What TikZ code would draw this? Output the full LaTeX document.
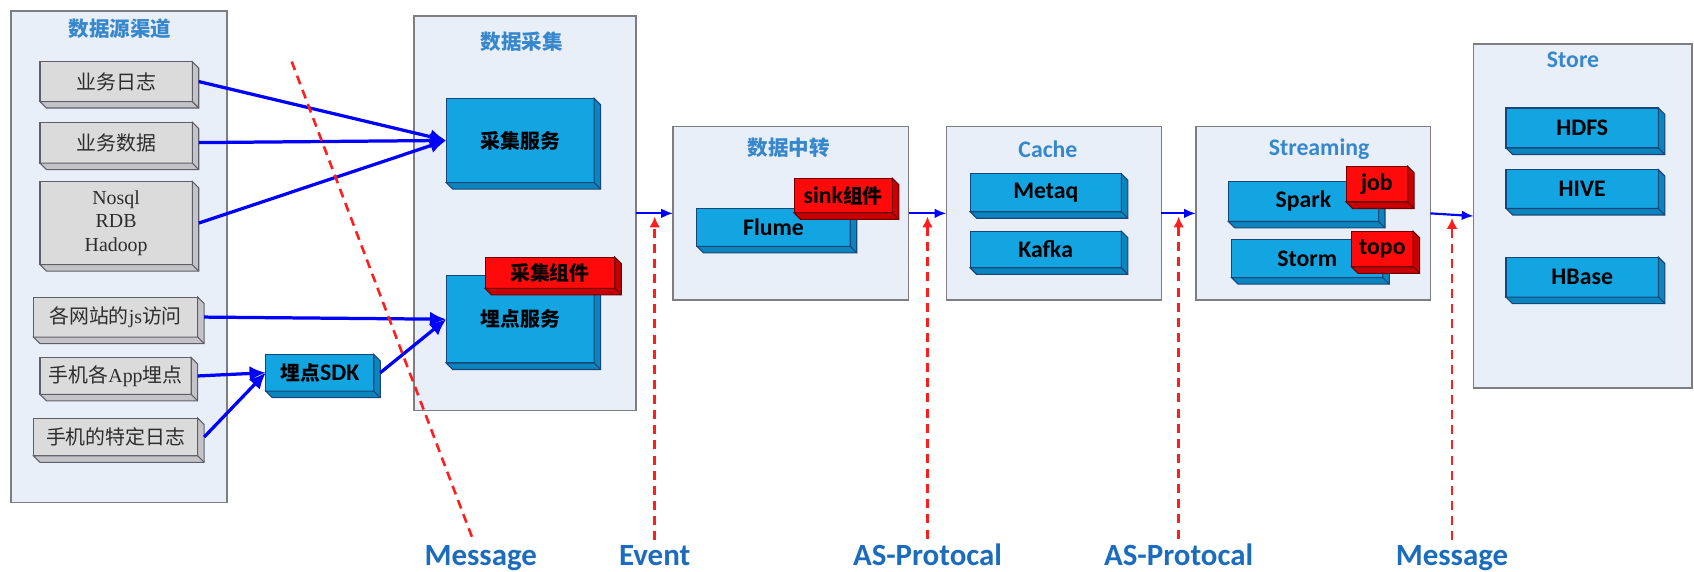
\documentclass[tikz,border=0pt]{standalone}
\usepackage{fontspec}
\setmainfont{Carlito}
\newfontfamily\cjk{Noto Sans CJK SC}
\newfontfamily\gserif{Liberation Serif}
\usetikzlibrary{arrows.meta,calc,fit}
\definecolor{ctnfill}{RGB}{233,239,248}
\definecolor{ctnline}{RGB}{125,125,130}
\definecolor{bfront}{RGB}{18,165,226}
\definecolor{bside}{RGB}{12,132,190}
\definecolor{bline}{RGB}{25,70,120}
\definecolor{rfront}{RGB}{255,10,10}
\definecolor{rside}{RGB}{200,0,0}
\definecolor{rline}{RGB}{110,0,0}
\definecolor{gfront}{RGB}{219,219,219}
\definecolor{gside}{RGB}{196,196,200}
\definecolor{gline}{RGB}{95,95,105}
\definecolor{gtext}{RGB}{45,45,45}
\definecolor{ttlblue}{RGB}{55,135,205}
\definecolor{lblblue}{RGB}{28,108,190}
\definecolor{arrblue}{RGB}{0,0,255}
\definecolor{dashred}{RGB}{255,30,30}
\newcommand\zh[1]{{\cjk\bfseries\fontsize{9.2}{11}\selectfont #1}}
\newcommand\zhr[1]{{\cjk\mdseries\fontsize{9.2}{11}\selectfont #1}}
\newcommand\zht[1]{{\cjk\bfseries\fontsize{9.5}{11}\selectfont #1}}
\newcommand\dd{6}
% style, name, x1, y1, x2, y2, text
\newcommand\tdbox[7]{%
  \node[#1, minimum width={(#5-#3)*0.5pt}, minimum height={(#6-#4)*0.5pt}]
     (#2) at ({(#3+#5)/2},{(#4+#6)/2}) {#7};
  \path[#1side] (#2.north east) -- ([shift={(\dd,\dd)}]#2.north east)
     -- ([shift={(\dd,\dd)}]#2.south east) -- ([shift={(\dd,\dd)}]#2.south west)
     -- (#2.south west) -- (#2.south east) -- cycle;
  \path[#1side] (#2.south east) -- ([shift={(\dd,\dd)}]#2.south east);
}
\tikzset{
  ctn/.style={draw=ctnline, fill=ctnfill, line width=0.8pt, inner sep=0pt, outer sep=0pt},
  ttl/.style={text=ttlblue, font=\bfseries\fontsize{11}{12}\selectfont, inner sep=0pt},
  blueb/.style={draw=bline, fill=bfront, line width=0.5pt, inner sep=0pt, outer sep=0pt,
    text=black, font=\bfseries\fontsize{11}{12}\selectfont},
  bluebside/.style={draw=bline, fill=bside, line width=0.5pt},
  redb/.style={draw=rline, fill=rfront, line width=0.5pt, inner sep=0pt, outer sep=0pt,
    text=black, font=\bfseries\fontsize{11}{12}\selectfont},
  redbside/.style={draw=rline, fill=rside, line width=0.5pt},
  greyb/.style={draw=gline, fill=gfront, line width=0.5pt, inner sep=0pt, outer sep=0pt,
    text=gtext, align=center, font=\gserif\fontsize{9.2}{11}\selectfont},
  greybside/.style={draw=gline, fill=gside, line width=0.5pt},
  barrow/.style={draw=arrblue, line width=1.5pt, -{Latex[length=7.5pt,width=7pt]}},
  sarrow/.style={draw=arrblue, line width=1pt, -{Latex[length=5.5pt,width=4.5pt]}},
  rdash/.style={draw=dashred, line width=1.2pt, dash pattern=on 4.2pt off 2.8pt},
  rarrow/.style={rdash, -{Latex[length=5pt,width=5pt]}},
  lbl/.style={text=lblblue, font=\bfseries\fontsize{14.3}{16}\selectfont, inner sep=0pt, anchor=base}
}
\begin{document}
\begin{tikzpicture}[x=0.5pt,y=-0.5pt]
\useasboundingbox (0,0) rectangle (1568,529.4);
\fill[white] (0,0) rectangle (1568,529.4);

% containers
\node[ctn, fit={(10,10) (210,465)}] (src) {};
\node[ctn, fit={(383,15) (589,380)}] (col) {};
\node[ctn, fit={(623,117) (841,278)}] (relay) {};
\node[ctn, fit={(876,117) (1075,278)}] (cache) {};
\node[ctn, fit={(1107,117) (1324,278)}] (stream) {};
\node[ctn, fit={(1364,41) (1566,359)}] (store) {};

% titles
\node[ttl] (tsrc) at (111,27) {\zht{数据源渠道}};
\node[ttl] (tcol) at (483,39) {\zht{数据采集}};
\node[ttl] (trelay) at (730,137) {\zht{数据中转}};
\node[ttl] (tcache) at (970,138) {Cache};
\node[ttl] (tstream) at (1221,138) {Streaming};
\node[ttl] (tstore) at (1456,55) {Store};

% source boxes
\tdbox{greyb}{g1}{37}{57}{178}{94}{\zhr{业务日志}}
\tdbox{greyb}{g2}{37}{113}{178}{151}{\zhr{业务数据}}
\tdbox{greyb}{g3}{37}{168}{178}{245}{Nosql\\RDB\\Hadoop}
\tdbox{greyb}{g4}{31}{275}{183}{312}{\zhr{各网站的}js\zhr{访问}}
\tdbox{greyb}{g5}{37}{331}{177}{365}{\zhr{手机各}App\zhr{埋点}}
\tdbox{greyb}{g6}{31}{387}{183}{422}{\zhr{手机的特定日志}}

% collection
\tdbox{blueb}{cjfw}{413}{91}{550}{169}{\zh{采集服务}}
\tdbox{blueb}{mdfw}{413}{255}{550}{336}{\zh{埋点服务}}
\tdbox{redb}{cjzj}{449}{238}{569}{267}{\zh{采集组件}}
\tdbox{blueb}{sdk}{246}{328}{346}{362}{\zh{埋点}SDK}

% relay
\tdbox{blueb}{flume}{645}{193}{787}{228}{Flume}
\tdbox{redb}{sink}{735}{165}{826}{197}{sink\zh{组件}}

% cache
\tdbox{blueb}{metaq}{898}{161}{1038}{196}{Metaq}
\tdbox{blueb}{kafka}{898}{214}{1038}{248}{Kafka}

% streaming
\tdbox{blueb}{spark}{1137}{168}{1276}{205}{Spark}
\tdbox{redb}{job}{1246}{154}{1303}{187}{job}
\tdbox{blueb}{storm}{1140}{222}{1280}{257}{Storm}
\tdbox{redb}{topo}{1251}{214}{1308}{247}{topo}

% store
\tdbox{blueb}{hdfs}{1394}{100}{1535}{137}{HDFS}
\tdbox{blueb}{hive}{1394}{157}{1535}{193}{HIVE}
\tdbox{blueb}{hbase}{1394}{238}{1535}{275}{HBase}

% source arrows
\draw[barrow] ([xshift=3pt]g1.east) -- (cjfw.west);
\draw[barrow] ([xshift=3pt]g2.east) -- (cjfw.west);
\draw[barrow] ([xshift=3pt]g3.east) -- (cjfw.west);
\draw[barrow] ([xshift=3pt]g4.east) -- (mdfw.west);
\draw[barrow] ([xshift=3pt]g5.east) -- (sdk.west);
\draw[barrow] ([xshift=3pt]g6.east) -- (sdk.west);
\draw[barrow] ([xshift=3pt]sdk.east) -- (mdfw.west);

% stage arrows
\draw[sarrow] (col.east) -- (relay.west);
\draw[sarrow] (relay.east) -- (cache.west);
\draw[sarrow] (cache.east) -- (stream.west);
\draw[sarrow] (stream.east) -- (store.west);

\coordinate (t1) at ($(col.east)!.5!(relay.west)$);
\coordinate (t2) at ($(relay.east)!.5!(cache.west)$);
\coordinate (t3) at ($(cache.east)!.5!(stream.west)$);
\coordinate (t4) at ($(stream.east)!.5!(store.west)$);
\coordinate (base) at (0,523);

% labels
\node[lbl] (m1) at (445,523) {Message};
\node[lbl] (ev) at (t1 |- base) {Event};
\node[lbl] (as1) at (t2 |- base) {AS-Protocal};
\node[lbl] (as2) at (t3 |- base) {AS-Protocal};
\node[lbl] (m2) at (t4 |- base) {Message};

% red dashed
\coordinate (sl) at (270,57);
\draw[rdash] (sl) -- ([xshift=-3.5pt,yshift=2pt]m1.north);
\draw[rarrow] ([yshift=2pt]t1 |- ev.north) -- ([yshift=-1.5pt]t1);
\draw[rarrow] ([yshift=2pt]t2 |- as1.north) -- ([yshift=-1.5pt]t2);
\draw[rarrow] ([yshift=2pt]t3 |- as2.north) -- ([yshift=-1.5pt]t3);
\draw[rarrow] ([yshift=2pt]t4 |- m2.north) -- ([yshift=-1.5pt]t4);
\end{tikzpicture}
\end{document}
